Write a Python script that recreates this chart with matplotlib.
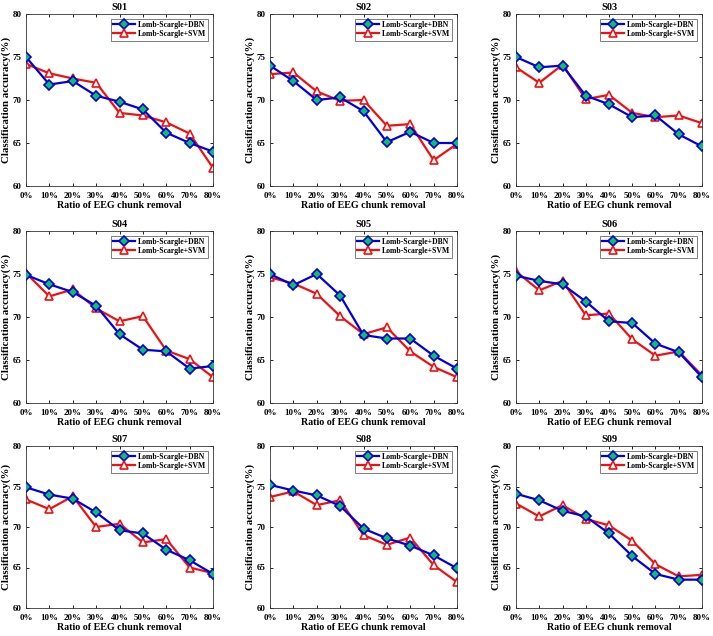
import matplotlib
matplotlib.use("Agg")
import matplotlib.pyplot as plt

ratios = ["0%", "10%", "20%", "30%", "40%", "50%", "60%", "70%", "80%"]
subjects = ["S01", "S02", "S03", "S04", "S05", "S06", "S07", "S08", "S09"]

dbn_s01 = [75.0, 71.8, 72.2, 70.5, 69.8, 68.9, 66.2, 65.0, 64.0]
svm_s01 = [74.2, 73.1, 72.5, 72.0, 68.5, 68.2, 67.4, 66.1, 62.1]
dbn_s02 = [74.0, 72.2, 70.0, 70.3, 68.7, 65.1, 66.3, 65.0, 65.0]
svm_s02 = [73.0, 73.2, 71.0, 69.9, 70.0, 67.0, 67.2, 63.0, 64.9]
dbn_s03 = [75.0, 73.8, 74.0, 70.5, 69.5, 68.0, 68.2, 66.0, 64.6]
svm_s03 = [73.8, 72.0, 74.1, 70.1, 70.6, 68.5, 68.0, 68.2, 67.3]
dbn_s04 = [74.9, 73.8, 72.9, 71.3, 68.0, 66.2, 66.0, 64.0, 64.3]
svm_s04 = [75.1, 72.4, 73.2, 71.0, 69.5, 70.1, 66.1, 65.1, 63.0]
dbn_s05 = [75.0, 73.7, 75.0, 72.5, 67.9, 67.5, 67.5, 65.5, 64.0]
svm_s05 = [74.6, 73.9, 72.7, 70.1, 68.0, 68.8, 66.0, 64.2, 63.0]
dbn_s06 = [74.8, 74.2, 73.8, 71.8, 69.5, 69.3, 66.9, 65.9, 63.0]
svm_s06 = [75.3, 73.1, 74.2, 70.2, 70.4, 67.4, 65.5, 66.0, 63.2]
dbn_s07 = [74.9, 74.0, 73.5, 71.8, 69.6, 69.2, 67.2, 65.9, 64.2]
svm_s07 = [73.4, 72.2, 73.8, 70.0, 70.4, 68.1, 68.5, 65.0, 64.3]
dbn_s08 = [75.2, 74.5, 73.9, 72.6, 69.8, 68.6, 67.7, 66.5, 64.9]
svm_s08 = [73.7, 74.4, 72.7, 73.3, 69.0, 67.8, 68.7, 65.3, 63.2]
dbn_s09 = [74.1, 73.3, 72.0, 71.3, 69.2, 66.4, 64.2, 63.5, 63.5]
svm_s09 = [72.9, 71.3, 72.7, 71.0, 70.2, 68.3, 65.4, 63.9, 64.1]

dbn_all = [dbn_s01, dbn_s02, dbn_s03, dbn_s04, dbn_s05, dbn_s06, dbn_s07, dbn_s08, dbn_s09]
svm_all = [svm_s01, svm_s02, svm_s03, svm_s04, svm_s05, svm_s06, svm_s07, svm_s08, svm_s09]

W, H = 713, 636
fig = plt.figure(figsize=(W / 100, H / 100), dpi=100)
plt.rcParams['font.family'] = ['Liberation Serif', 'DejaVu Serif']
plt.rcParams['font.weight'] = 'bold'

col_x = [(26, 213), (270, 457), (516, 702)]
row_y = [(14, 186), (231, 403), (446, 608)]

x = list(range(len(ratios)))
for i, subj in enumerate(subjects):
    r, c = divmod(i, 3)
    x0, x1 = col_x[c]
    y0, y1 = row_y[r]
    ax = fig.add_axes([x0 / W, 1 - y1 / H, (x1 - x0) / W, (y1 - y0) / H])
    ax.plot(x, dbn_all[i], color='#0000dd', lw=1.6, marker='D', ms=5.0,
            mfc='#10c060', mec='#0000dd', mew=1.2, label='Lomb-Scargle+DBN', zorder=3)
    ax.plot(x, svm_all[i], color='#ee1111', lw=1.6, marker='^', ms=6.0,
            mfc='white', mec='#ee1111', mew=1.2, label='Lomb-Scargle+SVM', zorder=2)
    ax.set_xlim(0, 8)
    ax.set_ylim(60, 80)
    ax.set_xticks(x)
    ax.set_xticklabels(ratios)
    ax.set_yticks([60, 65, 70, 75, 80])
    ax.tick_params(direction='in', length=2.5, width=0.6, labelsize=6.5,
                   top=True, right=True)
    ax.tick_params(axis='x', pad=4)
    ax.tick_params(axis='y', pad=3)
    for lab in ax.get_xticklabels() + ax.get_yticklabels():
        lab.set_fontweight('bold')
    for sp in ax.spines.values():
        sp.set_linewidth(0.6)
        sp.set_color('#333333')
    ax.set_title(subj, fontsize=7.5, fontweight='bold', pad=3)
    ax.set_xlabel('Ratio of EEG chunk removal', fontsize=7.2, fontweight='bold', labelpad=1)
    ax.set_ylabel('Classification accuracy(%)', fontsize=7.8, fontweight='bold', labelpad=1)
    leg = ax.legend(loc='upper right', frameon=True, fancybox=False,
                    edgecolor='#444444', handlelength=2.8, handletextpad=0.4,
                    borderpad=0.3, labelspacing=0.15, borderaxespad=0.6,
                    prop={'weight': 'bold', 'size': 5.6})
    leg.get_frame().set_linewidth(0.6)

fig.savefig('out.png', dpi=100)
